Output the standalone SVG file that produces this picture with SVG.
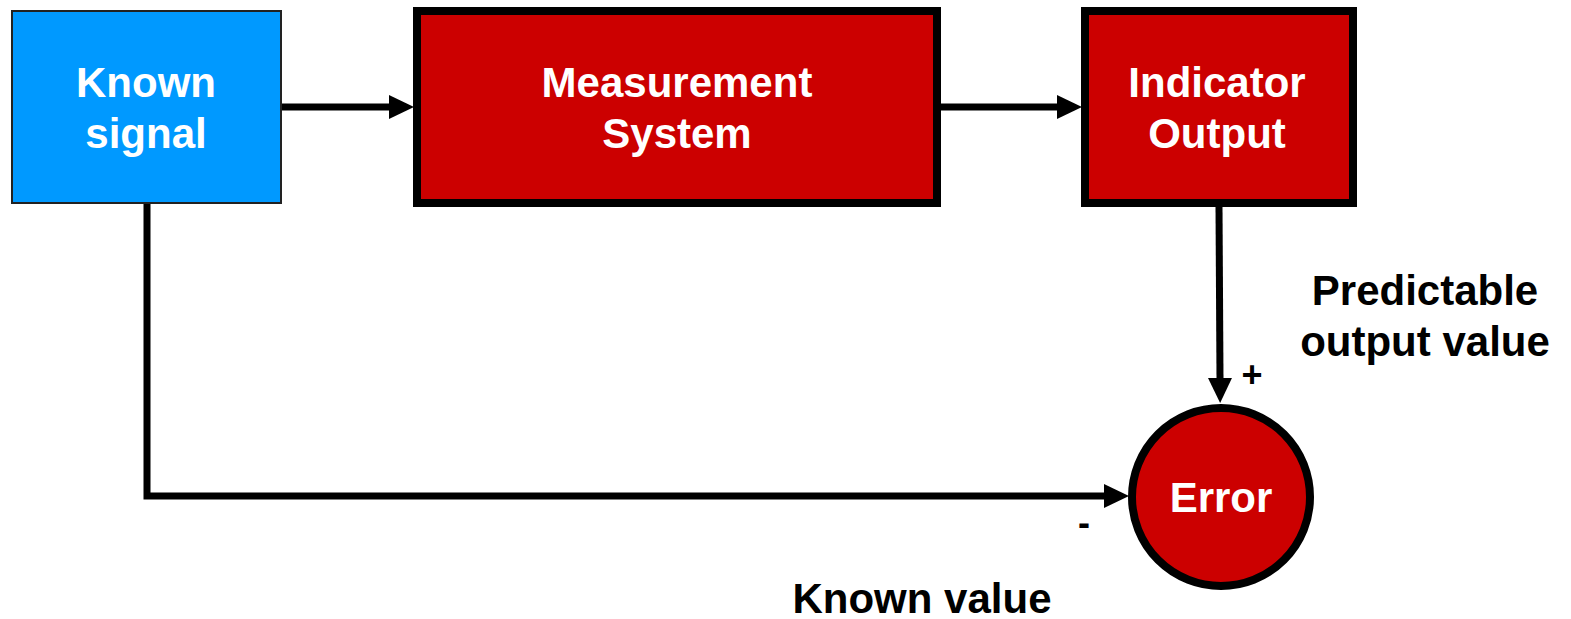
<svg xmlns="http://www.w3.org/2000/svg" width="1571" height="619" viewBox="0 0 1571 619">
<style>
.t{font-family:"Liberation Sans",Arial,sans-serif;font-weight:bold;font-size:42px;text-anchor:middle}
.w{fill:#fff}
.k{fill:#000}
.red{fill:#cc0000;stroke:#000;stroke-width:8}
.c{fill:none;stroke:#000;stroke-width:7}
</style>
<defs>
<marker id="ah" markerWidth="25" markerHeight="24" refX="0" refY="12" orient="auto" markerUnits="userSpaceOnUse">
<path d="M0,0 L25,12 L0,24 Z" fill="#000"/>
</marker>
</defs>
<rect width="1571" height="619" fill="#fff"/>
<g id="connectors">
<line class="c" x1="281" y1="107" x2="389" y2="107" marker-end="url(#ah)"/>
<line class="c" x1="941" y1="107" x2="1057" y2="107" marker-end="url(#ah)"/>
<line class="c" x1="1219" y1="207" x2="1220" y2="378" marker-end="url(#ah)"/>
<polyline class="c" points="147,203 147,496 1104,496" marker-end="url(#ah)"/>
</g>
<g id="known-signal">
<rect x="12" y="11" width="269" height="192" fill="#0099ff" stroke="#222" stroke-width="2"/>
<text class="t w" x="146" y="97">Known</text>
<text class="t w" x="146" y="148">signal</text>
</g>
<g id="measurement-system">
<rect class="red" x="417" y="11" width="520" height="192"/>
<text class="t w" x="677" y="97">Measurement</text>
<text class="t w" x="677" y="148">System</text>
</g>
<g id="indicator-output">
<rect class="red" x="1085" y="11" width="268" height="192"/>
<text class="t w" x="1217" y="97">Indicator</text>
<text class="t w" x="1217" y="148">Output</text>
</g>
<g id="error">
<circle class="red" cx="1221" cy="497" r="89"/>
<text class="t w" x="1221" y="512">Error</text>
</g>
<g id="labels">
<text class="t k" x="1425" y="305">Predictable</text>
<text class="t k" x="1425" y="356">output value</text>
<text class="t k" x="1252" y="387" style="font-size:36px">+</text>
<text class="t k" x="1084" y="535" style="font-size:36px">-</text>
<text class="t k" x="922" y="613">Known value</text>
</g>
</svg>
